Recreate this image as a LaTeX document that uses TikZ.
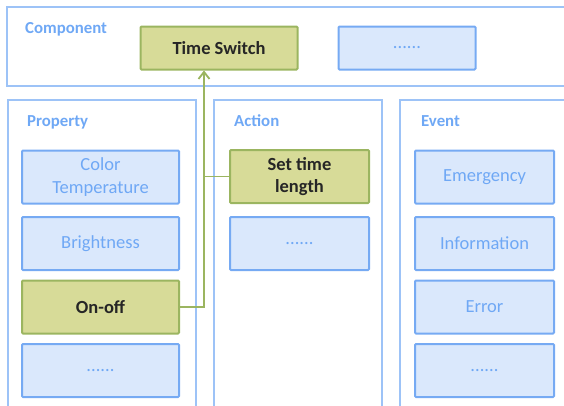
\documentclass[tikz,border=0pt]{standalone}
\usepackage{fontspec}
\setmainfont{Carlito}
\usetikzlibrary{arrows.meta}
\definecolor{panelline}{HTML}{9DC3F7}
\definecolor{boxline}{HTML}{76AAF3}
\definecolor{boxfill}{HTML}{DAE8FC}
\definecolor{bluetext}{HTML}{6FA8F5}
\definecolor{greenfill}{HTML}{D7DB98}
\definecolor{greenline}{HTML}{9BB560}
\definecolor{darktext}{HTML}{262626}
\tikzset{
  panel/.style={draw=panelline, line width=1.3pt},
  paneltitle/.style={anchor=west, text=bluetext, font=\bfseries\fontsize{16.8}{20}\selectfont, inner sep=0pt},
  bluebox/.style={draw=boxline, fill=boxfill, line width=2pt, text=bluetext, align=center,
    font=\fontsize{18.5}{22.5}\selectfont, rounded corners=1pt},
  greenbox/.style={draw=greenline, fill=greenfill, line width=2pt, text=darktext, align=center,
    font=\bfseries\fontsize{18.5}{22.5}\selectfont, rounded corners=1pt},
  link/.style={draw=greenline, line width=1.8pt},
}
\begin{document}
\begin{tikzpicture}[x=1pt,y=-1pt]
\useasboundingbox (0,0) rectangle (564,405);
\begin{scope}
\clip (0,0) rectangle (564,405);
% panels
\draw[panel] (7,7) rectangle (580,86);
\draw[panel] (8,100) rectangle (196,420);
\draw[panel] (214,100) rectangle (382,420);
\draw[panel] (400,100) rectangle (580,420);
\end{scope}
\node[paneltitle] (tc) at (25,29) {Component};
\node[paneltitle] (tp) at (27,122) {Property};
\node[paneltitle] (ta) at (234,121) {Action};
\node[paneltitle] (te) at (421,121) {Event};
% component row
\node[greenbox, minimum width=157pt, minimum height=43pt] (ts) at (219,48) {Time Switch};
\node[bluebox, minimum width=137pt, minimum height=43pt] (cd) at (407,48) {......};
% property
\node[bluebox, minimum width=157pt, minimum height=53pt] (ct) at (100.5,177) {Color\\Temperature};
\node[bluebox, minimum width=157pt, minimum height=53pt] (br) at (100.5,243.5) {Brightness};
\node[greenbox, minimum width=157pt, minimum height=53pt] (oo) at (100.5,307) {On-off};
\node[bluebox, minimum width=157pt, minimum height=53pt] (pd) at (100.5,370.5) {......};
% action
\node[greenbox, minimum width=139pt, minimum height=53pt] (st) at (299.5,176.5) {Set time\\length};
\node[bluebox, minimum width=139pt, minimum height=53pt] (ad) at (299.5,243.5) {......};
% event
\node[bluebox, minimum width=139pt, minimum height=53pt] (em) at (484.5,177) {Emergency};
\node[bluebox, minimum width=139pt, minimum height=53pt] (in) at (484.5,243.5) {Information};
\node[bluebox, minimum width=139pt, minimum height=53pt] (er) at (484.5,307) {Error};
\node[bluebox, minimum width=139pt, minimum height=53pt] (ed) at (484.5,370.5) {......};
% connectors
\coordinate (j) at (204,176.5);
\draw[link, -{Straight Barb[length=7pt,width=11pt]}] (oo.east) -| (ts.south -| j);
\draw[link] (st.west) -- (j);
\end{tikzpicture}
\end{document}
